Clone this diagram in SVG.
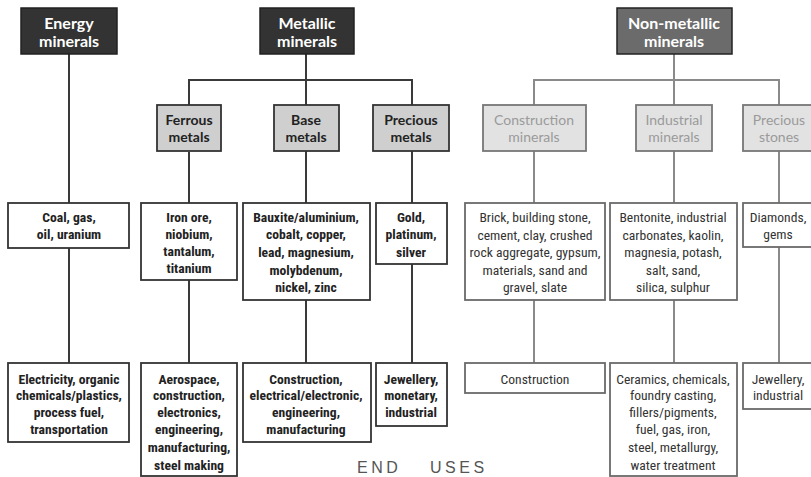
<svg xmlns="http://www.w3.org/2000/svg" width="811" height="477" viewBox="0 0 811 477">
<style>
.hdr{stroke:#222;stroke-width:1.5}
.hd1{fill:#333}
.hd2{fill:#6b6b6b}
.ht{font-family:Lato,"Open Sans",sans-serif;font-weight:bold;font-size:16px;fill:#fff;text-anchor:middle}
.s1{fill:#cfcfcf;stroke:#333;stroke-width:1.8}
.s2{fill:#e2e2e2;stroke:#777;stroke-width:1.8}
.st1{font-family:Lato,"Open Sans",sans-serif;font-weight:bold;font-size:14px;fill:#222;text-anchor:middle}
.st2{font-family:Lato,"Open Sans",sans-serif;font-size:14px;fill:#9a9a9a;text-anchor:middle}
.b1{fill:#fff;stroke:#333;stroke-width:1.8}
.b2{fill:#fff;stroke:#6a6a6a;stroke-width:1.8}
.t1{font-family:"Liberation Sans Narrow","Roboto Condensed","DejaVu Sans Condensed",sans-serif;font-weight:bold;font-size:13.6px;fill:#222;text-anchor:middle}
.t2{font-family:"Liberation Sans Narrow","Roboto Condensed","DejaVu Sans Condensed",sans-serif;font-size:13.6px;fill:#333;text-anchor:middle}
.c1{stroke:#3a3a3a;stroke-width:2;fill:none}
.c2{stroke:#8a8a8a;stroke-width:2;fill:none}
.eu{font-family:"Liberation Sans",Arial,sans-serif;font-size:16px;fill:#555;letter-spacing:3.5px}
</style>
<rect width="811" height="477" fill="#fff"/>
<g id="connectors">
<path class="c1" d="M69 54V203M69 248V363"/>
<path class="c1" d="M306 54V80M189 105V80H412V105"/>
<path class="c1" d="M189 152V203M189 280V363"/>
<path class="c1" d="M306 80V105M306 151V203M306 300V363"/>
<path class="c1" d="M412 151V203M412 264V363"/>
<path class="c2" d="M674 54V105M534 105V80H779V105"/>
<path class="c2" d="M534 151V203M534 300V363"/>
<path class="c2" d="M674 151V203M674 300V363"/>
<path class="c2" d="M779 151V203M779 247V363"/>
</g>
<g id="energy-minerals"><rect class="hdr hd1" x="21" y="8" width="96" height="46"/><text class="ht" x="69" y="29">Energy</text><text class="ht" x="69" y="47">minerals</text></g>
<g id="metallic-minerals"><rect class="hdr hd1" x="260" y="8" width="94" height="46"/><text class="ht" x="307" y="29">Metallic</text><text class="ht" x="307" y="47">minerals</text></g>
<g id="non-metallic-minerals"><rect class="hdr hd2" x="617" y="8" width="115" height="46"/><text class="ht" x="674" y="29">Non-metallic</text><text class="ht" x="674" y="47">minerals</text></g>

<g id="ferrous-metals"><rect class="s1" x="157" y="105" width="64" height="46"/><text class="st1" x="189" y="125">Ferrous</text><text class="st1" x="189" y="142">metals</text></g>
<g id="base-metals"><rect class="s1" x="274" y="105" width="65" height="46"/><text class="st1" x="306" y="125">Base</text><text class="st1" x="306" y="142">metals</text></g>
<g id="precious-metals"><rect class="s1" x="373" y="105" width="76" height="46"/><text class="st1" x="411" y="125">Precious</text><text class="st1" x="411" y="142">metals</text></g>
<g id="construction-minerals"><rect class="s2" x="483" y="105" width="103" height="46"/><text class="st2" x="534" y="125">Construction</text><text class="st2" x="534" y="142">minerals</text></g>
<g id="industrial-minerals"><rect class="s2" x="636" y="105" width="76" height="46"/><text class="st2" x="674" y="125">Industrial</text><text class="st2" x="674" y="142">minerals</text></g>
<g id="precious-stones"><rect class="s2" x="743" y="105" width="75" height="46"/><text class="st2" x="779" y="125">Precious</text><text class="st2" x="779" y="142">stones</text></g>

<g id="coal"><rect class="b1" x="8" y="203" width="121" height="45"/><text class="t1" x="69" y="222">Coal, gas,</text><text class="t1" x="69" y="239">oil, uranium</text></g>
<g id="iron-ore"><rect class="b1" x="141" y="203" width="96" height="77"/><text class="t1" x="189" y="222">Iron ore,</text><text class="t1" x="189" y="239">niobium,</text><text class="t1" x="189" y="256">tantalum,</text><text class="t1" x="189" y="273">titanium</text></g>
<g id="bauxite"><rect class="b1" x="243" y="203" width="127" height="97"/><text class="t1" x="306" y="222">Bauxite/aluminium,</text><text class="t1" x="306" y="239">cobalt, copper,</text><text class="t1" x="306" y="257">lead, magnesium,</text><text class="t1" x="306" y="275">molybdenum,</text><text class="t1" x="306" y="292">nickel, zinc</text></g>
<g id="gold"><rect class="b1" x="376" y="203" width="71" height="61"/><text class="t1" x="411" y="222">Gold,</text><text class="t1" x="411" y="239">platinum,</text><text class="t1" x="411" y="257">silver</text></g>
<g id="brick"><rect class="b2" x="465" y="203" width="140" height="97"/><text class="t2" x="535" y="222">Brick, building stone,</text><text class="t2" x="535" y="240">cement, clay, crushed</text><text class="t2" x="535" y="257">rock aggregate, gypsum,</text><text class="t2" x="535" y="275">materials, sand and</text><text class="t2" x="535" y="292">gravel, slate</text></g>
<g id="bentonite"><rect class="b2" x="610" y="203" width="127" height="97"/><text class="t2" x="673" y="222">Bentonite, industrial</text><text class="t2" x="673" y="240">carbonates, kaolin,</text><text class="t2" x="673" y="257">magnesia, potash,</text><text class="t2" x="673" y="275">salt, sand,</text><text class="t2" x="673" y="292">silica, sulphur</text></g>
<g id="diamonds"><rect class="b2" x="743" y="203" width="75" height="44"/><text class="t2" x="778" y="222">Diamonds,</text><text class="t2" x="778" y="239">gems</text></g>

<g id="energy-uses"><rect class="b1" x="8" y="363" width="121" height="79"/><text class="t1" x="69" y="384">Electricity, organic</text><text class="t1" x="69" y="400">chemicals/plastics,</text><text class="t1" x="69" y="417">process fuel,</text><text class="t1" x="69" y="434">transportation</text></g>
<g id="ferrous-uses"><rect class="b1" x="141" y="363" width="96" height="113"/><text class="t1" x="189" y="384">Aerospace,</text><text class="t1" x="189" y="400">construction,</text><text class="t1" x="189" y="417">electronics,</text><text class="t1" x="189" y="434">engineering,</text><text class="t1" x="189" y="452">manufacturing,</text><text class="t1" x="189" y="470">steel making</text></g>
<g id="base-uses"><rect class="b1" x="243" y="363" width="128" height="79"/><text class="t1" x="306" y="384">Construction,</text><text class="t1" x="306" y="400">electrical/electronic,</text><text class="t1" x="306" y="417">engineering,</text><text class="t1" x="306" y="434">manufacturing</text></g>
<g id="precious-uses"><rect class="b1" x="376" y="363" width="71" height="63"/><text class="t1" x="411" y="384">Jewellery,</text><text class="t1" x="411" y="400">monetary,</text><text class="t1" x="411" y="417">industrial</text></g>
<g id="construction-uses"><rect class="b2" x="465" y="363" width="140" height="30"/><text class="t2" x="535" y="384">Construction</text></g>
<g id="industrial-uses"><rect class="b2" x="610" y="363" width="127" height="113"/><text class="t2" x="673" y="384">Ceramics, chemicals,</text><text class="t2" x="673" y="400">foundry casting,</text><text class="t2" x="673" y="417">fillers/pigments,</text><text class="t2" x="673" y="434">fuel, gas, iron,</text><text class="t2" x="673" y="452">steel, metallurgy,</text><text class="t2" x="673" y="470">water treatment</text></g>
<g id="stones-uses"><rect class="b2" x="743" y="363" width="75" height="46"/><text class="t2" x="778" y="384">Jewellery,</text><text class="t2" x="778" y="400">industrial</text></g>

<text class="eu" x="357" y="473">END</text><text class="eu" x="430" y="473">USES</text>
</svg>
